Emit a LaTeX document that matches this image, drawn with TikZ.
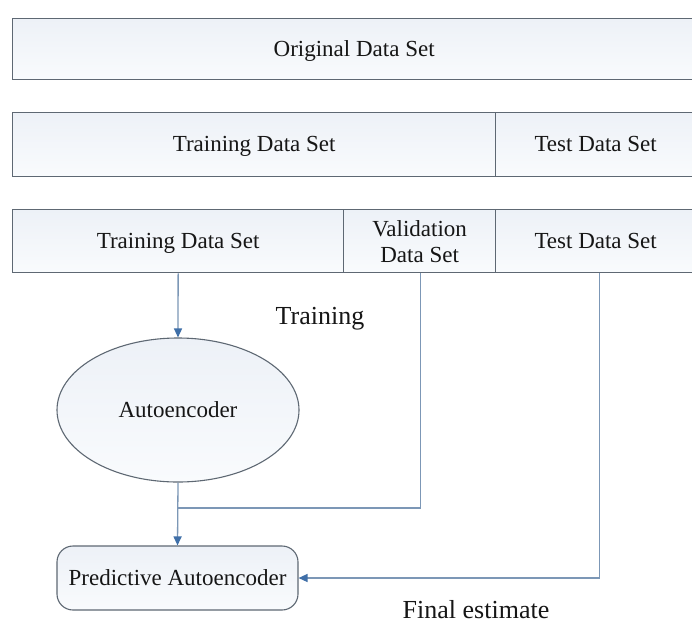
\documentclass[tikz,border=0pt]{standalone}
\usepackage{fontspec}
\setmainfont{Liberation Serif}
\usetikzlibrary{shapes.geometric,arrows.meta}
\definecolor{edgegray}{HTML}{5E6873}
\definecolor{linkblue}{HTML}{7C97B6}
\definecolor{tipblue}{HTML}{3F6FA8}
\definecolor{boxtop}{HTML}{EDF1F7}
\definecolor{boxbot}{HTML}{F9FBFD}
\definecolor{ink}{HTML}{161616}
\tikzset{
  databox/.style={draw=edgegray, line width=1.3pt, top color=boxtop, bottom color=boxbot,
    inner sep=0pt, anchor=north west, text=ink,
    font=\fontsize{23}{26}\selectfont, text height=17pt, text depth=3pt},
  twoline/.style={text height=, text depth=, align=center},
  roundbox/.style={draw=edgegray, line width=1.1pt, rounded corners=16pt,
    top color=boxtop, bottom color=boxbot, inner sep=0pt, text=ink,
    font=\fontsize{23}{26}\selectfont},
  ovalbox/.style={ellipse, draw=edgegray, line width=1.1pt, top color=boxtop,
    bottom color=boxbot, inner sep=0pt, text=ink, font=\fontsize{23}{26}\selectfont},
  link/.style={draw=linkblue, line width=1.3pt},
  arr/.style={link, -{Triangle[length=9pt,width=8pt,fill=tipblue,color=tipblue]}},
  caption/.style={text=ink, font=\fontsize{26}{30}\selectfont, inner sep=0pt, anchor=base}
}
\begin{document}
\begin{tikzpicture}[x=1pt,y=-1pt]
\useasboundingbox[fill=white] (0,0) rectangle (692,624);

% first row: the whole data set
\node[databox, minimum width=683pt, minimum height=61pt] (orig) at (12,18) {Original Data Set};

% second row: training / test split
\node[databox, minimum width=483pt, minimum height=64pt] (train2) at (12,112) {Training Data Set};
\node[databox, minimum width=200pt, minimum height=64pt] (test2) at (495,112) {Test Data Set};

% third row: training / validation / test split
\node[databox, minimum width=331pt, minimum height=63pt] (train3) at (12,209) {Training Data Set};
\node[databox, twoline, minimum width=152pt, minimum height=63pt] (valid3) at (343,209) {Validation\\Data Set};
\node[databox, minimum width=200pt, minimum height=63pt] (test3) at (495,209) {Test Data Set};

% models
\node[ovalbox, minimum width=242pt, minimum height=144pt] (ae) at (178,410) {Autoencoder};
\node[roundbox, minimum width=241pt, minimum height=64pt] (pae) at (177.5,578) {Predictive Autoencoder};

% connectors
\coordinate (join) at (178,508);
\draw[arr] (train3.south) -- (ae.north);
\draw[link] ([xshift=0.5pt]valid3.south) |- (join);
\draw[arr] (ae.south) -- (pae.north);
\draw[arr] ([xshift=4pt]test3.south) |- (pae.east);

% labels
\node[caption] (lbltrain) at (320,324) {Training};
\node[caption] (lblfinal) at (476,618) {Final estimate};
\end{tikzpicture}
\end{document}
